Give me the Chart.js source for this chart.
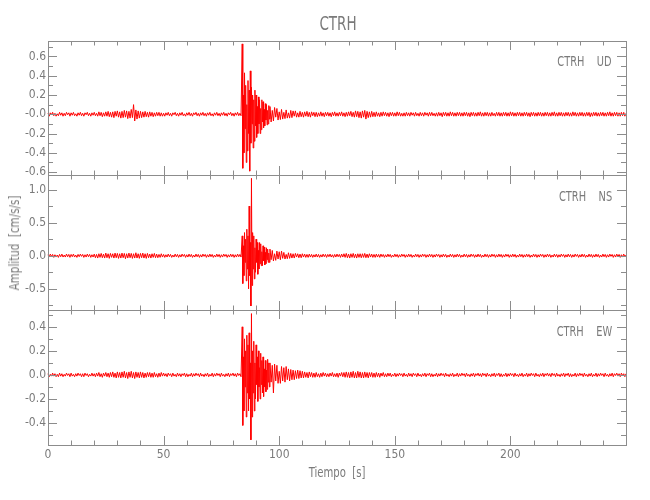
<!DOCTYPE html>
<html>
<head>
<meta charset="utf-8">
<title>CTRH</title>
<script src="https://cdn.jsdelivr.net/npm/chart.js@4"></script>
<style>
  body { margin: 0; background: #fff; }
  #wrap { position: relative; width: 650px; height: 500px; overflow: hidden;
          font-family: 'Liberation Sans Narrow', 'DejaVu Sans Condensed', 'Liberation Sans', sans-serif; color: #7a7a7a; }
  #wrap canvas { position: absolute; left: 0; top: 0; }
  .lbl { position: absolute; white-space: pre; line-height: 1; }
  .tag { right: 38px; font-size: 14px; transform: translateY(-50%) scaleX(0.78); transform-origin: right center; }
</style>
</head>
<body>
<div id="wrap">
  <canvas id="c0" width="650" height="500"></canvas>
  <canvas id="c1" width="650" height="500"></canvas>
  <canvas id="c2" width="650" height="500"></canvas>
  <div class="lbl" style="left:338px; top:23px; font-size:20px; transform:translate(-50%,-50%) scaleX(0.75);">CTRH</div>
  <div class="lbl" style="left:14px; top:243px; font-size:14px; transform:translate(-50%,-50%) rotate(-90deg) scaleX(0.82);">Amplitud  [cm/s/s]</div>
  <div class="lbl" style="left:337px; top:472px; font-size:14px; transform:translate(-50%,-50%) scaleX(0.8);">Tiempo  [s]</div>
  <div class="lbl tag" style="top:61px;">CTRH    UD</div>
  <div class="lbl tag" style="top:196px;">CTRH    NS</div>
  <div class="lbl tag" style="top:331px;">CTRH    EW</div>
</div>
<script>
// sampling grid: 0.5 s, with 0.25 s through the strongest shaking
const times = [];
for (let t = 0; t < 84; t += 0.5) times.push(t);
for (let t = 84; t < 96; t += 0.25) times.push(t);
for (let t = 96; t <= 250; t += 0.5) times.push(t);

// vertical component (cm/s/s)
const udValues = [
  // 0 - 83.5 s
  .01,-.02,.015,-.005,.02,-.015,.01,-.02,.005,-.015,.02,-.01,.015,-.02,.01,-.015,.02,-.005,.015,-.02,
  .015,-.01,.02,-.015,.005,-.02,.015,-.01,.02,-.015,.01,-.02,.015,-.005,.02,-.015,.01,-.02,.015,-.01,
  .02,-.015,.01,-.02,.025,-.015,.02,-.025,.015,-.02,.025,-.02,.03,-.025,.02,-.03,.025,-.035,.03,-.02,
  .035,-.03,.025,-.04,.03,-.035,.04,-.03,.035,-.045,.03,-.04,.05,-.035,.1,-.07,.045,-.05,.035,-.04,
  .03,-.035,.025,-.03,.03,-.025,.02,-.03,.025,-.02,.02,-.025,.015,-.02,.02,-.015,.02,-.02,.015,-.02,
  .01,-.02,.015,-.01,.02,-.015,.01,-.02,.015,-.005,.02,-.015,.01,-.02,.015,-.01,.02,-.015,.005,-.02,
  .015,-.01,.02,-.015,.01,-.02,.015,-.005,.02,-.015,.01,-.02,.015,-.01,.02,-.015,.01,-.02,.015,-.01,
  .02,-.015,.005,-.02,.015,-.01,.02,-.015,.01,-.02,.015,-.01,.02,-.015,.01,-.02,.015,-.005,.02,-.015,
  .01,-.02,.015,-.01,.02,-.015,.01,-.015,
  // 84 - 95.75 s
  .73,-.56,.2,-.4,.43,-.15,.3,-.5,.1,-.38,.35,-.2,.25,-.59,.45,-.3,
  .28,-.1,.2,-.35,.15,-.28,.25,-.12,.2,-.24,.08,-.2,.18,-.1,.15,-.2,
  .06,-.16,.15,-.08,.13,-.14,.05,-.12,.11,-.06,.1,-.11,.04,-.1,.09,-.05,
  // 96 - 250 s
  .08,-.08,.04,-.07,.07,-.03,.06,-.06,.025,-.055,.05,-.05,.02,-.045,.045,-.04,.015,-.04,.04,-.035,
  .035,-.02,.035,-.03,.015,-.03,.03,-.025,.02,-.03,.025,-.02,.03,-.025,.02,-.03,.025,-.015,.02,-.025,
  .02,-.025,.015,-.02,.025,-.02,.015,-.025,.02,-.015,.02,-.02,.015,-.025,.02,-.015,.025,-.02,.015,-.02,
  .02,-.015,.025,-.02,.015,-.025,.02,-.02,.025,-.015,.03,-.025,.02,-.03,.035,-.025,.03,-.035,.025,-.04,
  .035,-.03,.04,-.05,.03,-.035,.025,-.03,.03,-.025,.02,-.025,.025,-.02,.015,-.025,.02,-.02,.025,-.015,
  .02,-.02,.015,-.025,.02,-.015,.02,-.02,.015,-.02,.025,-.015,.02,-.02,.01,-.02,.015,-.02,.02,-.015,
  .015,-.02,.02,-.01,.015,-.02,.02,-.015,.01,-.02,.02,-.015,.015,-.02,.02,-.01,.015,-.02,.02,-.015,
  .02,-.015,.01,-.02,.015,-.02,.02,-.015,.015,-.025,.02,-.015,.02,-.02,.015,-.02,.025,-.015,.02,-.02,
  .015,-.02,.02,-.015,.02,-.02,.015,-.02,.02,-.015,.02,-.02,.015,-.025,.02,-.015,.02,-.02,.015,-.02,
  .02,-.015,.025,-.02,.015,-.02,.02,-.015,.02,-.02,.015,-.02,.02,-.015,.01,-.02,.02,-.015,.02,-.02,
  .015,-.02,.02,-.015,.02,-.02,.015,-.02,.025,-.015,.02,-.02,.015,-.02,.02,-.015,.02,-.02,.015,-.02,
  .02,-.015,.02,-.02,.015,-.025,.02,-.015,.02,-.02,.015,-.02,.02,-.015,.02,-.02,.015,-.02,.02,-.015,
  .02,-.02,.015,-.02,.02,-.015,.025,-.02,.015,-.02,.02,-.015,.02,-.02,.015,-.02,.02,-.015,.02,-.02,
  .015,-.02,.025,-.015,.02,-.02,.015,-.02,.02,-.015,.02,-.02,.015,-.02,.02,-.015,.02,-.025,.015,-.02,
  .02,-.015,.02,-.02,.015,-.02,.02,-.015,.02,-.02,.015,-.02,.02,-.015,.025,-.02,.015,-.02,.02,-.015,
  .02,-.02,.015,-.02,.02,-.015,.02,-.02,
  .01
];

// north-south component
const nsValues = [
  .015,-.02,.025,-.01,.02,-.025,.015,-.02,.01,-.025,.02,-.015,.025,-.02,.01,-.02,.025,-.015,.02,-.025,
  .02,-.015,.025,-.02,.01,-.025,.02,-.015,.025,-.01,.02,-.025,.015,-.02,.025,-.015,.02,-.025,.015,-.02,
  .025,-.03,.02,-.035,.03,-.025,.035,-.03,.025,-.035,.04,-.03,.03,-.04,.035,-.025,.03,-.035,.04,-.03,
  .035,-.04,.03,-.035,.04,-.03,.035,-.045,.03,-.035,.04,-.03,.035,-.04,.03,-.035,.045,-.035,.03,-.04,
  .035,-.03,.04,-.035,.03,-.04,.035,-.03,.025,-.035,.03,-.025,.035,-.03,.025,-.03,.02,-.025,.03,-.02,
  .02,-.025,.015,-.02,.025,-.015,.02,-.025,.01,-.02,.025,-.015,.02,-.025,.015,-.02,.025,-.01,.02,-.025,
  .015,-.02,.025,-.015,.02,-.025,.01,-.02,.025,-.015,.02,-.025,.015,-.02,.025,-.01,.02,-.025,.015,-.02,
  .025,-.015,.02,-.025,.01,-.02,.025,-.015,.02,-.025,.015,-.02,.025,-.01,.02,-.025,.015,-.02,.025,-.015,
  .02,-.025,.015,-.02,.025,-.015,.02,-.02,
  .3,-.42,.15,-.3,.35,-.1,.25,-.38,.4,-.2,.3,-.5,.75,-.3,.2,-.76,
  1.17,-.45,.35,-.2,.3,-.35,.12,-.25,.25,-.1,.2,-.28,.08,-.2,.2,-.12,
  .18,-.15,.06,-.15,.15,-.08,.13,-.14,.05,-.12,.12,-.06,.1,-.1,.04,-.1,
  .1,-.06,.08,-.08,.03,-.07,.07,-.05,.06,-.06,.07,-.04,.05,-.05,.02,-.045,.045,-.04,.035,-.035,
  .03,-.035,.035,-.02,.03,-.03,.025,-.03,.03,-.02,.025,-.025,.02,-.025,.025,-.02,.02,-.025,.015,-.02,
  .025,-.02,.02,-.025,.015,-.02,.025,-.015,.02,-.025,.02,-.015,.025,-.02,.015,-.025,.02,-.02,.025,-.015,
  .02,-.025,.025,-.02,.03,-.025,.035,-.03,.025,-.035,.03,-.025,.035,-.03,.025,-.035,.03,-.025,.03,-.03,
  .03,-.025,.035,-.03,.025,-.03,.03,-.02,.025,-.025,.02,-.025,.025,-.02,.02,-.025,.025,-.015,.02,-.025,
  .015,-.02,.025,-.015,.02,-.025,.01,-.02,.025,-.015,.02,-.025,.015,-.02,.025,-.01,.02,-.025,.015,-.02,
  .025,-.015,.02,-.025,.01,-.02,.025,-.015,.02,-.025,.015,-.02,.025,-.01,.02,-.025,.015,-.02,.025,-.015,
  .02,-.025,.015,-.02,.025,-.01,.02,-.025,.015,-.02,.025,-.015,.02,-.025,.01,-.02,.025,-.015,.02,-.025,
  .015,-.02,.025,-.015,.02,-.025,.01,-.02,.025,-.015,.02,-.025,.015,-.02,.025,-.01,.02,-.025,.015,-.02,
  .025,-.015,.02,-.025,.01,-.02,.025,-.015,.02,-.025,.015,-.02,.025,-.01,.02,-.025,.015,-.02,.025,-.015,
  .02,-.025,.015,-.02,.025,-.01,.02,-.025,.015,-.02,.025,-.015,.02,-.025,.01,-.02,.025,-.015,.02,-.025,
  .015,-.02,.025,-.015,.02,-.025,.01,-.02,.025,-.015,.02,-.025,.015,-.02,.025,-.01,.02,-.025,.015,-.02,
  .025,-.015,.02,-.025,.01,-.02,.025,-.015,.02,-.025,.015,-.02,.025,-.01,.02,-.025,.015,-.02,.025,-.015,
  .02,-.025,.015,-.02,.025,-.01,.02,-.025,.015,-.02,.025,-.015,.02,-.025,.01,-.02,.025,-.015,.02,-.025,
  .015,-.02,.025,-.015,.02,-.025,.01,-.02,.025,-.015,.02,-.025,.015,-.02,.025,-.01,.02,-.025,.015,-.02,
  .025,-.015,.02,-.025,.015,-.02,.025,-.015,
  .01
];

// east-west component
const ewValues = [
  .01,-.015,.005,-.01,.015,-.01,.01,-.015,.005,-.015,.015,-.01,.01,-.015,.005,-.01,.015,-.005,.01,-.015,
  .015,-.01,.005,-.015,.01,-.01,.015,-.005,.01,-.015,.01,-.015,.015,-.005,.01,-.015,.005,-.01,.015,-.01,
  .01,-.015,.015,-.01,.02,-.015,.01,-.02,.015,-.01,.02,-.015,.015,-.02,.02,-.015,.025,-.02,.015,-.025,
  .025,-.02,.02,-.025,.025,-.02,.03,-.025,.02,-.03,.025,-.02,.03,-.025,.02,-.03,.025,-.02,.02,-.025,
  .025,-.02,.02,-.025,.015,-.02,.02,-.015,.02,-.02,.015,-.02,.02,-.015,.01,-.02,.015,-.015,.02,-.01,
  .015,-.01,.01,-.015,.015,-.005,.01,-.015,.015,-.01,.005,-.015,.015,-.01,.01,-.015,.01,-.005,.015,-.015,
  .01,-.015,.005,-.01,.015,-.015,.01,-.01,.015,-.005,.01,-.015,.015,-.01,.005,-.015,.01,-.01,.015,-.015,
  .005,-.01,.015,-.015,.01,-.01,.015,-.005,.01,-.015,.015,-.01,.005,-.015,.01,-.01,.015,-.015,.01,-.005,
  .015,-.01,.01,-.015,.015,-.005,.01,-.015,
  .4,-.42,.15,-.3,.3,-.1,.2,-.35,.33,-.15,.25,-.3,.35,-.2,.1,-.54,
  .51,-.35,.2,-.15,.28,-.3,.1,-.2,.25,-.08,.15,-.22,.2,-.1,.06,-.2,
  .18,-.08,.12,-.15,.15,-.18,.05,-.1,.12,-.14,.04,-.12,.13,-.06,.1,-.1,
  .1,-.06,.08,-.15,.09,-.05,.08,-.07,.03,-.07,.07,-.05,.06,-.06,.07,-.04,.05,-.05,.045,-.04,
  .04,-.04,.035,-.03,.04,-.03,.035,-.025,.03,-.025,.025,-.02,.02,-.025,.025,-.015,.02,-.02,.015,-.02,
  .02,-.015,.01,-.02,.015,-.015,.02,-.01,.015,-.015,.01,-.015,.015,-.01,.02,-.015,.01,-.015,.015,-.02,
  .015,-.01,.02,-.015,.02,-.02,.025,-.02,.02,-.025,.025,-.02,.03,-.025,.02,-.025,.03,-.02,.025,-.025,
  .02,-.025,.025,-.02,.02,-.025,.02,-.015,.02,-.02,.015,-.02,.02,-.015,.015,-.02,.015,-.01,.02,-.015,
  .01,-.015,.015,-.01,.015,-.015,.005,-.01,.015,-.015,.01,-.01,.015,-.005,.01,-.015,.015,-.01,.005,-.015,
  .015,-.01,.01,-.015,.015,-.005,.01,-.015,.015,-.01,.005,-.015,.01,-.01,.015,-.015,.01,-.005,.015,-.015,
  .01,-.015,.005,-.01,.015,-.015,.01,-.01,.015,-.005,.01,-.015,.015,-.01,.005,-.015,.01,-.01,.015,-.015,
  .005,-.01,.015,-.015,.01,-.01,.015,-.005,.01,-.015,.015,-.01,.005,-.015,.01,-.01,.015,-.015,.01,-.005,
  .015,-.01,.01,-.015,.015,-.005,.01,-.015,.015,-.01,.005,-.015,.01,-.01,.015,-.015,.01,-.005,.015,-.015,
  .01,-.015,.005,-.01,.015,-.015,.01,-.01,.015,-.005,.01,-.015,.015,-.01,.005,-.015,.01,-.01,.015,-.015,
  .005,-.01,.015,-.015,.01,-.01,.015,-.005,.01,-.015,.015,-.01,.005,-.015,.01,-.01,.015,-.015,.01,-.005,
  .015,-.01,.01,-.015,.015,-.005,.01,-.015,.015,-.01,.005,-.015,.01,-.01,.015,-.015,.01,-.005,.015,-.015,
  .01,-.015,.005,-.01,.015,-.015,.01,-.01,.015,-.005,.01,-.015,.015,-.01,.005,-.015,.01,-.01,.015,-.015,
  .005,-.01,.015,-.015,.01,-.01,.015,-.005,.01,-.015,.015,-.01,.005,-.015,.01,-.01,.015,-.015,.01,-.005,
  .015,-.01,.01,-.015,.015,-.005,.01,-.015,
  .01
];

const traces = [udValues, nsValues, ewValues];

// axes: ranges and labelled tick values
const xMax = 249.99;
const xTickValues = [0, 50, 100, 150, 200];
const yMin = [-0.63, -0.82, -0.583];
const yMax = [0.76, 1.22, 0.54];
const yTickValues = [
    [-0.6, -0.4, -0.2, 0, 0.2, 0.4, 0.6],
    [-0.5, 0, 0.5, 1.0],
    [-0.4, -0.2, 0, 0.2, 0.4]
];
const zeroLabel = ['-0.0', '0.0', '0.0'];
const yMinor = [0.1, 0.25, 0.1];
const xMinor = 10;

// layout
const panelTop = [41, 175, 310];
const panelBottom = [175, 310, 445];
const axisColor = '#8c8c8c';
const textColor = '#7a7a7a';
const tickFont = { family: "'Liberation Sans Narrow', 'DejaVu Sans Condensed', 'Liberation Sans', sans-serif", size: 12 };

const isTick = (v, list) => list.some(t => Math.abs(t - v) < 1e-6);

// frame box and inward ticks on all four sides
const frameTicks = {
    id: 'frameTicks',
    afterDatasetsDraw(chart, args, opts) {
        const { ctx, chartArea: a } = chart;
        const x = chart.scales.x, y = chart.scales.y;
        ctx.save();
        ctx.strokeStyle = axisColor;
        ctx.lineWidth = 1;
        ctx.strokeRect(a.left + 0.5, a.top + 0.5, a.right - a.left, a.bottom - a.top);
        ctx.beginPath();
        for (let v = 0; v <= x.max; v += xMinor) {
            const px = Math.round(x.getPixelForValue(v)) + 0.5;
            const len = isTick(v, xTickValues) ? 9 : 4.5;
            ctx.moveTo(px, a.top); ctx.lineTo(px, a.top + len);
            ctx.moveTo(px, a.bottom); ctx.lineTo(px, a.bottom - len);
        }
        const k0 = Math.ceil(y.min / opts.minor - 1e-6), k1 = Math.floor(y.max / opts.minor + 1e-6);
        for (let k = k0; k <= k1; k++) {
            const v = k * opts.minor;
            const len = isTick(v, opts.major) ? 9 : 5;
            const py = Math.round(y.getPixelForValue(v)) + 0.5;
            ctx.moveTo(a.left, py); ctx.lineTo(a.left + len, py);
            ctx.moveTo(a.right, py); ctx.lineTo(a.right - len, py);
        }
        ctx.stroke();
        ctx.restore();
    }
};

function makePanel(i) {
    const isLast = i === traces.length - 1;
    return new Chart(document.getElementById('c' + i), {
        type: 'line',
        data: {
            datasets: [{
                data: times.map((t, k) => ({ x: t, y: traces[i][k] })),
                borderColor: '#ff0000',
                borderWidth: 1,
                borderJoinStyle: 'bevel',
                pointRadius: 0,
                tension: 0,
                clip: false
            }]
        },
        options: {
            responsive: false,
            animation: false,
            devicePixelRatio: 1,
            layout: { padding: { left: 0, right: 24, top: panelTop[i], bottom: isLast ? 0 : 500 - panelBottom[i] } },
            plugins: {
                legend: { display: false },
                tooltip: { enabled: false },
                frameTicks: { minor: yMinor[i], major: yTickValues[i] }
            },
            scales: {
                x: {
                    type: 'linear',
                    min: 0,
                    max: xMax,
                    display: isLast,
                    grid: { display: false, drawTicks: false },
                    border: { display: false },
                    ticks: {
                        autoSkip: false,
                        maxRotation: 0,
                        padding: 3,
                        color: textColor,
                        font: tickFont,
                        callback: v => String(v)
                    },
                    afterBuildTicks(s) { s.ticks = xTickValues.map(v => ({ value: v })); },
                    afterFit(s) { if (isLast) s.height = 500 - panelBottom[i]; }
                },
                y: {
                    min: yMin[i],
                    max: yMax[i],
                    grid: { display: false, drawTicks: false },
                    border: { display: false },
                    ticks: {
                        autoSkip: false,
                        padding: 2,
                        color: textColor,
                        font: tickFont,
                        callback: v => Math.abs(v) < 1e-9 ? zeroLabel[i] : v.toFixed(1)
                    },
                    afterBuildTicks(s) { s.ticks = yTickValues[i].map(v => ({ value: v })); },
                    afterFit(s) { s.width = 48; }
                }
            }
        },
        plugins: [frameTicks]
    });
}

traces.forEach((tr, i) => {
    if (tr.length !== times.length) console.error('length mismatch', i, tr.length, times.length);
    makePanel(i);
});
</script>
</body>
</html>
